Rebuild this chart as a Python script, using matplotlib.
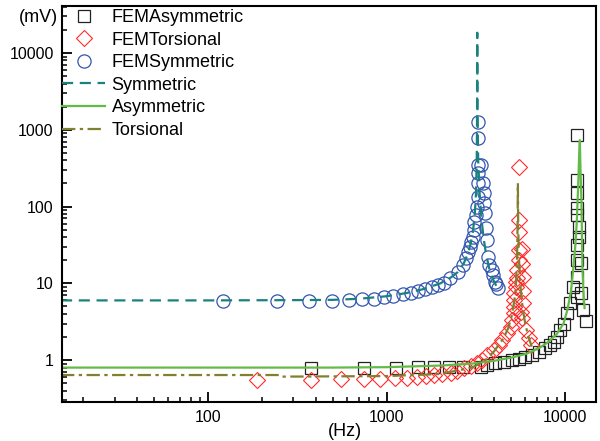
import matplotlib
matplotlib.use("Agg")
import matplotlib.pyplot as plt
from matplotlib.ticker import LogLocator, FixedLocator, FixedFormatter, NullFormatter

plt.rcParams['font.family'] = ['Liberation Sans', 'DejaVu Sans']

# ---------------- data ----------------
fem_asym_f = [375, 743, 1131, 1498, 1853, 2240, 2668, 3365, 3666, 4050, 4522, 5045, 5496,
              5985, 6521, 7104, 7740, 8256, 8619, 8996, 9400, 9810, 10240, 10690, 11070,
              11700, 11700, 11700, 11700, 11890, 11890, 11700, 11700, 11700, 11700, 11700,
              12220, 12220, 12650, 13030]
fem_asym_v = [0.78, 0.78, 0.78, 0.82, 0.82, 0.82, 0.82, 0.82, 0.86, 0.91, 0.95, 1.0, 1.05,
              1.1, 1.16, 1.28, 1.42, 1.57, 1.73, 2.0, 2.46, 3.0, 4.06, 5.5, 9.0,
              6.7, 12, 20, 31.6, 40, 54.5, 78, 95, 149, 222, 850,
              7.5, 18.3, 4.5, 3.25]

fem_tors_f = [189, 375, 553, 743, 913, 1122, 1294, 1486, 1653, 1832, 2051, 2285, 2491, 2700,
              2956, 3222, 3436, 3664, 3975, 4241, 4447, 4745, 4950, 5058, 5143, 5143, 5143,
              5143, 5279, 5279, 5395, 5395, 5508, 5508, 5508, 5508, 5508,
              5700, 5750, 5800, 5830, 5630, 5834, 5754, 6008, 6246, 6412]
fem_tors_v = [0.55, 0.55, 0.56, 0.56, 0.565, 0.58, 0.59, 0.61, 0.62, 0.64, 0.66, 0.68, 0.72, 0.78,
              0.84, 0.91, 1.0, 1.16, 1.35, 1.57, 1.82, 2.25, 2.71, 3.32, 4.09, 4.95, 6.05,
              7.45, 9.0, 10.5, 11.7, 14.9, 20, 27, 47, 66.5, 330,
              28, 18, 12, 8, 4.3, 5.5, 3.5, 2.46, 1.94, 1.57]

fem_sym_f = [122, 242, 366, 492, 613, 724, 846, 962, 1081, 1230, 1362, 1492, 1633, 1787, 1931,
             2086, 2254, 2499, 2666, 2772, 2844, 2917, 2956, 3034, 3071, 3071, 3153, 3193, 3238,
             3238, 3238, 3238, 3238, 3238,
             3365, 3451, 3494, 3494, 3540, 3587, 3631, 3681, 3725, 3873, 3926, 4027, 4083, 4188]
fem_sym_v = [5.9, 5.9, 5.9, 5.9, 6.0, 6.2, 6.3, 6.7, 6.9, 7.2, 7.5, 8.0, 8.4, 8.9, 9.5,
             10.2, 11.7, 14.1, 17.3, 21.3, 25.8, 29.9, 34.8, 40.4, 49.4, 63, 77, 99, 134,
             202, 273, 347, 781, 1262,
             347, 202, 150, 111, 82, 52, 36.6, 22, 17.3, 14.9, 12.8, 10.5, 9.8, 8.7]

sym_f = [15, 100, 300, 500, 700, 1000, 1300, 1600, 2000, 2300, 2500, 2700, 2850, 2950, 3050,
         3120, 3170, 3200, 3215, 3222, 3230, 3260, 3320, 3400, 3500, 3600, 3750, 3900, 4050, 4200]
sym_v = [6.0, 6.0, 6.05, 6.1, 6.3, 6.8, 7.5, 8.4, 10, 12, 14, 18, 24, 32, 48,
         80, 150, 400, 2000, 18400, 2000, 400, 150, 70, 38, 25, 16, 12, 10, 8.5]

asym_f = [15, 500, 1000, 2000, 3000, 4000, 5000, 6000, 7000, 8000, 9000, 9800, 10300, 10800,
          11100, 11400, 11640, 11850, 12000, 12100, 12200, 12350, 12500, 12700, 12860]
asym_v = [0.8, 0.8, 0.81, 0.85, 0.9, 0.98, 1.08, 1.2, 1.4, 1.7, 2.2, 3.0, 4.5, 8,
          15, 30, 66, 200, 500, 735, 300, 120, 16.4, 7, 4.76]

tors_f = [15, 250, 255, 1000, 2000, 3000, 3500, 4000, 4500, 4800, 5000, 5200, 5300, 5380,
          5420, 5440, 5460, 5500, 5600, 5800, 6000, 6200, 6500]
tors_v = [0.64, 0.64, 0.61, 0.62, 0.66, 0.8, 0.95, 1.3, 1.9, 2.6, 3.6, 6, 9, 20,
          60, 202, 60, 25, 10, 4.5, 2.9, 2.1, 1.5]

x_ticks = [100, 1000, 10000]
x_tick_labels = ['100', '1000', '10000']
y_ticks = [1, 10, 100, 1000, 10000]
y_tick_labels = ['1', '10', '100', '1000', '10000']

# ---------------- figure ----------------
fig = plt.figure(figsize=(6.0, 4.41), dpi=100)
ax = fig.add_axes([62/600, 1 - 402/441, (596 - 62)/600, (402 - 6)/441])

ax.plot(fem_asym_f, fem_asym_v, linestyle='none', marker='s', markersize=8.5,
        markerfacecolor='none', markeredgecolor='#222222', markeredgewidth=0.9,
        label='FEMAsymmetric')
ax.plot(fem_tors_f, fem_tors_v, linestyle='none', marker='D', markersize=8.3,
        markerfacecolor='none', markeredgecolor='#ff2a2a', markeredgewidth=0.8,
        label='FEMTorsional')
ax.plot(fem_sym_f, fem_sym_v, linestyle='none', marker='o', markersize=9.5,
        markerfacecolor='none', markeredgecolor='#3355b0', markeredgewidth=0.9,
        label='FEMSymmetric')
ax.plot(sym_f, sym_v, color='#1a8080', linewidth=1.6, dashes=(5, 3),
        label='Symmetric')
ax.plot(asym_f, asym_v, color='#62bb46', linewidth=1.6, linestyle='-',
        label='Asymmetric')
ax.plot(tors_f, tors_v, color='#80802e', linewidth=1.6, dashes=(6, 2, 1.5, 2),
        label='Torsional')

ax.set_xscale('log')
ax.set_yscale('log')
ax.set_xlim(15.2, 14900)
ax.set_ylim(0.285, 41000)

ax.xaxis.set_major_locator(FixedLocator(x_ticks))
ax.xaxis.set_major_formatter(FixedFormatter(x_tick_labels))
ax.xaxis.set_minor_locator(LogLocator(base=10, subs=range(2, 10)))
ax.xaxis.set_minor_formatter(NullFormatter())
ax.yaxis.set_major_locator(FixedLocator(y_ticks))
ax.yaxis.set_major_formatter(FixedFormatter(y_tick_labels))
ax.yaxis.set_minor_locator(LogLocator(base=10, subs=range(2, 10)))
ax.yaxis.set_minor_formatter(NullFormatter())

ax.tick_params(which='major', direction='in', length=7, width=1.3, labelsize=11.5,
               top=False, right=False, pad=6, colors='black')
ax.tick_params(which='minor', direction='in', length=3.5, width=1.1,
               top=False, right=False)
for s in ax.spines.values():
    s.set_linewidth(1.5)

fig.text(38/600, 1 - 17/441, '(mV)', ha='center', va='center', fontsize=13)
fig.text(345/600, 1 - 432/441, '(Hz)', ha='center', va='center', fontsize=13)

leg = ax.legend(loc='upper left', bbox_to_anchor=(62/600, 1 - 9/441),
                bbox_transform=fig.transFigure, frameon=False, fontsize=13,
                borderpad=0, borderaxespad=0, handlelength=2.4, handletextpad=0.35,
                labelspacing=0.31)

fig.savefig('out.png', dpi=100)
